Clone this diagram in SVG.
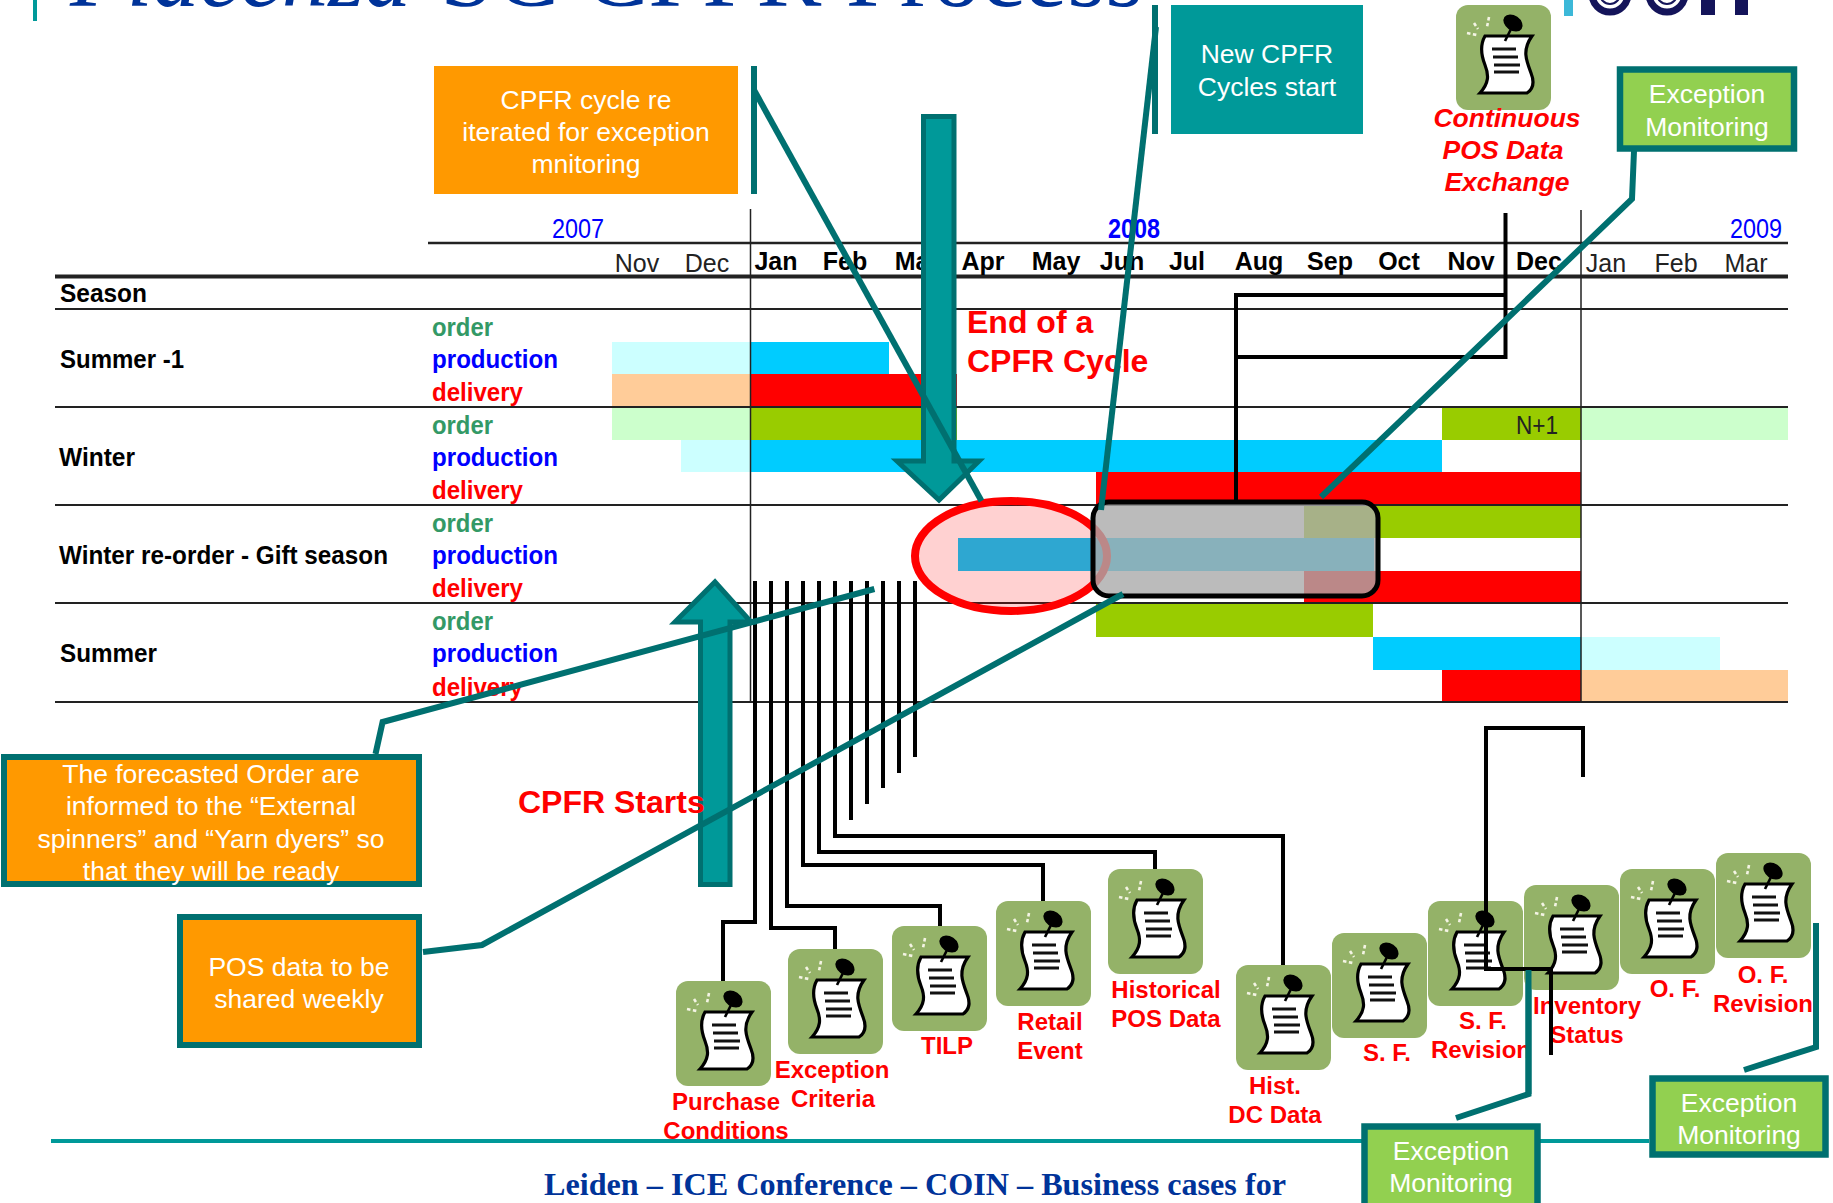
<svg xmlns="http://www.w3.org/2000/svg" width="1833" height="1203" viewBox="0 0 1833 1203">
<style>
text{font-family:"Liberation Sans",Arial,sans-serif}
.w{fill:#fff;font-size:26.500px;text-anchor:middle}
.r{fill:#f00;font-size:24px;font-weight:bold;text-anchor:middle}
.rb{fill:#f00;font-size:32px;font-weight:bold}
.m{fill:#222;font-size:25px;text-anchor:middle}
.mb{fill:#000;font-size:25px;font-weight:bold;text-anchor:middle}
.s{fill:#000;font-size:26px;font-weight:bold}
.o{fill:#339966;font-size:26px;font-weight:bold}
.p{fill:#00f;font-size:26px;font-weight:bold}
.d{fill:#f00;font-size:26px;font-weight:bold}
.h{stroke:#222;fill:none}
.tl{fill:none;stroke:#007070;stroke-width:6}
.bl{fill:none;stroke:#000;stroke-width:4}
.ar{fill:#009999;stroke:#007070;stroke-width:5}
.box{fill:#f90;stroke:#007070;stroke-width:6}
.gb{fill:#92d050;stroke:#007070;stroke-width:6.500}
.ser{font-family:"Liberation Serif","Times New Roman",serif;fill:#003399}
</style>
<defs>
<g id="icon">
<rect width="95" height="105" rx="12" fill="#94b268"/>
<path d="M29 31H76C66 45 70 55 75 68C79 78 77 84 71 88H24C33 78 33 70 29 60C25 50 24 40 29 31Z" fill="#fff" stroke="#000" stroke-width="3.200"/>
<ellipse cx="57" cy="18" rx="10.500" ry="7.500" transform="rotate(35 57 18)" fill="#000"/>
<path d="M55 24L49 36" stroke="#000" stroke-width="2.600"/>
<path d="M36 44H60M37 52H62M38 60H64M38 67H63" stroke="#111" stroke-width="2.800"/>
<path d="M11 28L21 30M18 18L22 24M33 12L31 22" stroke="#f4f4e4" stroke-width="2.600" stroke-dasharray="3.500 2.500"/>
</g>
</defs>
<g id="title">
<rect x="33" y="0" width="4" height="21" fill="#009999"/>
<text class="ser" x="70" y="6" font-size="95" font-style="italic" textLength="341" lengthAdjust="spacingAndGlyphs">Piacenza</text>
<text class="ser" x="440" y="6" font-size="95" textLength="703" lengthAdjust="spacingAndGlyphs">SC CPFR Process</text>
</g>
<g id="logo">
<rect x="1564" y="0" width="9" height="16" fill="#3cb8d8"/>
<circle cx="1610" cy="-6" r="18" fill="none" stroke="#14145a" stroke-width="7"/>
<circle cx="1610" cy="-6" r="10" fill="none" stroke="#14145a" stroke-width="2"/>
<circle cx="1667" cy="-6" r="18" fill="none" stroke="#14145a" stroke-width="7"/>
<circle cx="1667" cy="-6" r="10" fill="none" stroke="#14145a" stroke-width="2"/>
<rect x="1701" y="0" width="14" height="15" fill="#14145a"/>
<rect x="1735" y="0" width="13" height="15" fill="#14145a"/>
</g>
<g id="bars">
<rect x="612" y="342" width="138.500" height="32" fill="#cff"/>
<rect x="750.500" y="342" width="138.500" height="32" fill="#0cf"/>
<rect x="612" y="374" width="138.500" height="33" fill="#fc9"/>
<rect x="750.500" y="374" width="206.500" height="33" fill="#f00"/>
<rect x="612" y="408" width="138.500" height="32" fill="#cfc"/>
<rect x="750.500" y="408" width="206.500" height="32" fill="#9c0"/>
<rect x="1442" y="408" width="139" height="32" fill="#9c0"/>
<rect x="1581" y="408" width="207" height="32" fill="#cfc"/>
<rect x="681" y="440" width="69.500" height="32" fill="#cff"/>
<rect x="750.500" y="440" width="691.500" height="32" fill="#0cf"/>
<rect x="1096" y="472" width="485" height="33" fill="#f00"/>
<rect x="1304" y="506" width="277" height="32" fill="#9c0"/>
<rect x="958" y="538" width="416" height="33" fill="#0cf"/>
<rect x="1304" y="571" width="277" height="32" fill="#f00"/>
<rect x="1096" y="604" width="277" height="33" fill="#9c0"/>
<rect x="1373" y="637" width="208" height="33" fill="#0cf"/>
<rect x="1581" y="637" width="139" height="33" fill="#cff"/>
<rect x="1442" y="670" width="139" height="32" fill="#f00"/>
<rect x="1581" y="670" width="207" height="32" fill="#fc9"/>
</g>
<g id="grid">
<path class="h" stroke-width="2.500" d="M428 243H1788"/>
<path class="h" stroke-width="4" stroke="#000" d="M55 276.500H1788"/>
<path class="h" stroke-width="2" d="M55 309H1788M55 407H1788M55 505H1788M55 603H1788M55 702H1788"/>
<path class="h" stroke-width="1.500" d="M750.500 209V702M1581 210V702"/>
</g>
<g id="labels">
<text x="578" y="238" font-size="28" fill="#00f" text-anchor="middle" textLength="52" lengthAdjust="spacingAndGlyphs">2007</text>
<text x="1134" y="238" font-size="28" font-weight="bold" fill="#00f" text-anchor="middle" textLength="52" lengthAdjust="spacingAndGlyphs">2008</text>
<text x="1756" y="238" font-size="28" fill="#00f" text-anchor="middle" textLength="52" lengthAdjust="spacingAndGlyphs">2009</text>
<text class="m" x="637" y="272">Nov</text><text class="m" x="707" y="272">Dec</text>
<text class="mb" x="776" y="270">Jan</text><text class="mb" x="845" y="270">Feb</text><text class="mb" x="917" y="270">Mar</text>
<text class="mb" x="983" y="270">Apr</text><text class="mb" x="1056" y="270">May</text><text class="mb" x="1122" y="270">Jun</text>
<text class="mb" x="1187" y="270">Jul</text><text class="mb" x="1259" y="270">Aug</text><text class="mb" x="1330" y="270">Sep</text>
<text class="mb" x="1399" y="270">Oct</text><text class="mb" x="1471" y="270">Nov</text><text class="mb" x="1539" y="270">Dec</text>
<text class="m" x="1606" y="272">Jan</text><text class="m" x="1676" y="272">Feb</text><text class="m" x="1746" y="272">Mar</text>
<text class="s" x="60" y="302" textLength="87" lengthAdjust="spacingAndGlyphs">Season</text>
<text class="s" x="60" y="368" textLength="124" lengthAdjust="spacingAndGlyphs">Summer -1</text>
<text class="s" x="59" y="466" textLength="76" lengthAdjust="spacingAndGlyphs">Winter</text>
<text class="s" x="59" y="564" textLength="329" lengthAdjust="spacingAndGlyphs">Winter re-order - Gift season</text>
<text class="s" x="60" y="662" textLength="97" lengthAdjust="spacingAndGlyphs">Summer</text>
<text class="o" x="432" y="336" textLength="61" lengthAdjust="spacingAndGlyphs">order</text><text class="p" x="432" y="368" textLength="126" lengthAdjust="spacingAndGlyphs">production</text><text class="d" x="432" y="401" textLength="91" lengthAdjust="spacingAndGlyphs">delivery</text>
<text class="o" x="432" y="434" textLength="61" lengthAdjust="spacingAndGlyphs">order</text><text class="p" x="432" y="466" textLength="126" lengthAdjust="spacingAndGlyphs">production</text><text class="d" x="432" y="499" textLength="91" lengthAdjust="spacingAndGlyphs">delivery</text>
<text class="o" x="432" y="532" textLength="61" lengthAdjust="spacingAndGlyphs">order</text><text class="p" x="432" y="564" textLength="126" lengthAdjust="spacingAndGlyphs">production</text><text class="d" x="432" y="597" textLength="91" lengthAdjust="spacingAndGlyphs">delivery</text>
<text class="o" x="432" y="630" textLength="61" lengthAdjust="spacingAndGlyphs">order</text><text class="p" x="432" y="662" textLength="126" lengthAdjust="spacingAndGlyphs">production</text><text class="d" x="432" y="696" textLength="91" lengthAdjust="spacingAndGlyphs">delivery</text>
<text x="1537" y="434" font-size="26" fill="#222" text-anchor="middle" textLength="42" lengthAdjust="spacingAndGlyphs">N+1</text>
<text class="rb" x="967" y="333">End of a</text>
<text class="rb" x="967" y="372">CPFR Cycle</text>
</g>
<g id="highlights">
<ellipse cx="1011" cy="556" rx="96" ry="55" fill="#f00" fill-opacity=".18" stroke="#f00" stroke-width="8"/>
<rect x="1093" y="502" width="285" height="94" rx="16" fill="#aaa" fill-opacity=".8" stroke="#000" stroke-width="5"/>
</g>
<g id="connectors">
<path class="bl" d="M1505.500 213V357H1236V295H1505.500M1236 357V500"/>
<path class="bl" d="M1583 777V728H1486V969H1551M1551 969V1055"/>
<path class="bl" d="M755 581V922H723V981"/>
<path class="bl" d="M771 581V928H835V949"/>
<path class="bl" d="M787 581V906H940V926"/>
<path class="bl" d="M803 581V865H1043V901"/>
<path class="bl" d="M819 581V852H1155V869"/>
<path class="bl" d="M835 581V836H1283V965"/>
<path class="bl" d="M851 581V820M867 581V804M883 581V788M899 581V773M915 581V757"/>
<path fill="none" stroke="#009999" stroke-width="4" d="M51 1141H1649"/>
</g>
<g id="node-cycle-reiterated">
<rect x="434" y="66" width="304" height="128" fill="#f90"/>
<text class="w" x="586" y="109">CPFR cycle re</text><text class="w" x="586" y="141">iterated for exception</text><text class="w" x="586" y="173">mnitoring</text>
</g>
<g id="node-new-cycles">
<rect x="1171" y="5" width="192" height="129" fill="#009999"/>
<text class="w" x="1267" y="63">New CPFR</text><text class="w" x="1267" y="96">Cycles start</text>
</g>
<g id="node-forecast">
<rect class="box" x="4" y="757" width="415" height="127"/>
<text class="w" x="211" y="783">The forecasted Order are</text><text class="w" x="211" y="815">informed to the “External</text><text class="w" x="211" y="848">spinners” and “Yarn dyers” so</text><text class="w" x="211" y="880">that they will be ready</text>
</g>
<g id="node-pos-weekly">
<rect class="box" x="180" y="917" width="239" height="128"/>
<text class="w" x="299" y="976">POS data to be</text><text class="w" x="299" y="1008">shared weekly</text>
</g>
<g id="arrows">
<path class="ar" d="M923.500 116.500H954V461H979L939 500L897 461H923.500Z"/>
<path class="ar" d="M715 582L751 622H730V884.500H700.500V622H675Z"/>
</g>
<text id="label-cpfr-starts" class="rb" x="518" y="813">CPFR Starts</text>
<g id="leaders">
<rect x="751" y="66" width="6" height="128" fill="#007070"/>
<rect x="1152" y="5" width="6" height="129" fill="#007070"/>
<path class="tl" d="M754 90L981.500 501"/>
<path class="tl" d="M1156 27L1101 510"/>
<path class="tl" d="M1634 151L1632 199L1321 497"/>
<path class="tl" d="M375.500 754L382.600 722L874.400 589"/>
<path class="tl" d="M423 952L482 945L1123 594"/>
<path class="tl" d="M1528.500 970V1094L1456 1118"/>
<path class="tl" d="M1816 923V1047L1744 1070"/>
</g>
<g id="node-exc-top"><rect class="gb" x="1620" y="69.500" width="174" height="79"/><text class="w" x="1707" y="103">Exception</text><text class="w" x="1707" y="136">Monitoring</text></g>
<g id="node-exc-mid"><rect class="gb" x="1364.500" y="1126.500" width="173" height="90"/><text class="w" x="1451" y="1160">Exception</text><text class="w" x="1451" y="1192">Monitoring</text></g>
<g id="node-exc-right"><rect class="gb" x="1652.500" y="1078.500" width="173" height="76"/><text class="w" x="1739" y="1112">Exception</text><text class="w" x="1739" y="1144">Monitoring</text></g>
<g id="node-pos-exchange"><use href="#icon" x="1456" y="5"/>
<text x="1507" y="127" font-size="26.500" font-weight="bold" font-style="italic" fill="#f00" text-anchor="middle">Continuous</text><text x="1503" y="159" font-size="26.500" font-weight="bold" font-style="italic" fill="#f00" text-anchor="middle">POS Data</text><text x="1507" y="191" font-size="26.500" font-weight="bold" font-style="italic" fill="#f00" text-anchor="middle">Exchange</text></g>
<g id="node-purchase"><use href="#icon" x="676" y="981"/><text class="r" x="726" y="1110">Purchase</text><text class="r" x="726" y="1139">Conditions</text></g>
<g id="node-exception-criteria"><use href="#icon" x="788" y="949"/><text class="r" x="832" y="1078">Exception</text><text class="r" x="833" y="1107">Criteria</text></g>
<g id="node-tilp"><use href="#icon" x="892" y="926"/><text class="r" x="947" y="1054">TILP</text></g>
<g id="node-retail"><use href="#icon" x="996" y="901"/><text class="r" x="1050" y="1030">Retail</text><text class="r" x="1050" y="1059">Event</text></g>
<g id="node-historical"><use href="#icon" x="1108" y="869"/><text class="r" x="1166" y="998">Historical</text><text class="r" x="1166" y="1027">POS Data</text></g>
<g id="node-hist-dc"><use href="#icon" x="1236" y="965"/><text class="r" x="1275" y="1094">Hist.</text><text class="r" x="1275" y="1123">DC Data</text></g>
<g id="node-sf"><use href="#icon" x="1332" y="933"/><text class="r" x="1387" y="1061">S. F.</text></g>
<g id="node-sf-rev"><use href="#icon" x="1428" y="901"/><text class="r" x="1483" y="1029">S. F.</text><text class="r" x="1481" y="1058">Revision</text></g>
<g id="node-inventory"><use href="#icon" x="1524" y="885"/><text class="r" x="1587" y="1014">Inventory</text><text class="r" x="1587" y="1043">Status</text></g>
<g id="node-of"><use href="#icon" x="1620" y="869"/><text class="r" x="1675" y="997">O. F.</text></g>
<g id="node-of-rev"><use href="#icon" x="1716" y="853"/><text class="r" x="1763" y="983">O. F.</text><text class="r" x="1763" y="1012">Revision</text></g>
<g id="overlay-connectors">
<path class="bl" d="M1486 880V969H1551V1055"/>
<path class="tl" d="M1528.500 970V1094"/>
</g>
<g id="footer"><text class="ser" x="915" y="1195" font-size="32" font-weight="bold" text-anchor="middle" textLength="742" lengthAdjust="spacingAndGlyphs">Leiden – ICE Conference – COIN – Business cases for</text></g>
</svg>
